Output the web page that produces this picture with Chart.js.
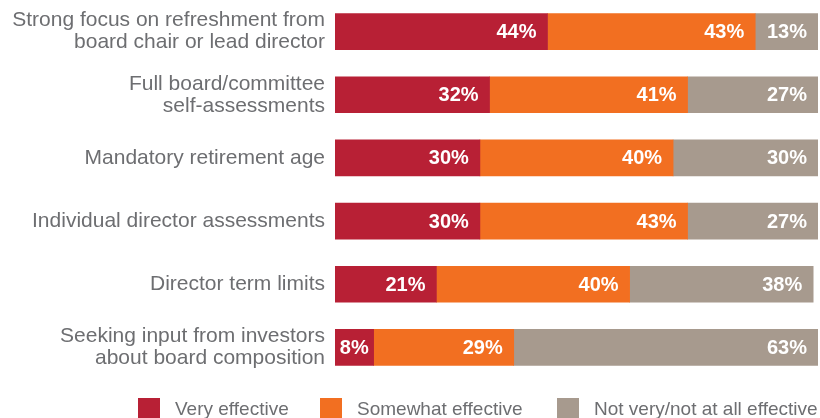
<!DOCTYPE html>
<html>
<head>
<meta charset="utf-8">
<script src="https://cdn.jsdelivr.net/npm/chart.js@4.4.1/dist/chart.umd.min.js"></script>
<style>
  html, body { margin: 0; padding: 0; background: #fff; }
  #wrap { width: 820px; height: 418px; position: relative; overflow: hidden; }
  #legend { position: absolute; top: 398px; left: 0; width: 820px; height: 22px;
    font-family: "Liberation Sans", Arial, Helvetica, sans-serif; font-size: 19px; color: #6D6E71; }
  .item { position: absolute; top: 0; height: 22px; line-height: 22px; white-space: nowrap; }
  .box { position: absolute; left: 0; top: 0; width: 22px; height: 22px; }
  .lbl { position: absolute; left: 37px; top: 0; }
</style>
</head>
<body>
<div id="wrap"><canvas id="chart"></canvas><div id="legend"></div></div>
<script>
  var CATEGORIES = [
    ['Strong focus on refreshment from', 'board chair or lead director'],
    ['Full board/committee', 'self-assessments'],
    'Mandatory retirement age',
    'Individual director assessments',
    'Director term limits',
    ['Seeking input from investors', 'about board composition']
  ];
  var SERIES = ['Very effective', 'Somewhat effective', 'Not very/not at all effective'];
  var VERY = [44, 32, 30, 30, 21, 8];
  var SOMEWHAT = [43, 41, 40, 43, 40, 29];
  var NOT_VERY = [13, 27, 30, 27, 38, 63];

  var COLORS = ['#B82035', '#F26F21', '#A79A8E'];
  var TEXT = '#6D6E71';
  var FONT = '"Liberation Sans", Arial, Helvetica, sans-serif';
  var LEGEND_X = [138, 320, 557];

  // white % labels, right-aligned inside each segment (centred when the segment is too narrow)
  var valueLabels = {
    id: 'valueLabels',
    afterDatasetsDraw: function(chart) {
      var ctx = chart.ctx;
      ctx.save();
      ctx.font = 'bold 20px ' + FONT;
      ctx.fillStyle = '#fff';
      ctx.textBaseline = 'middle';
      chart.data.datasets.forEach(function(ds, i) {
        chart.getDatasetMeta(i).data.forEach(function(bar, j) {
          var txt = ds.data[j] + '%';
          var w = ctx.measureText(txt).width;
          var segW = bar.x - bar.base;
          if (segW < w + 20) {
            ctx.textAlign = 'center';
            ctx.fillText(txt, (bar.x + bar.base) / 2, bar.y + 1);
          } else {
            ctx.textAlign = 'right';
            ctx.fillText(txt, bar.x - 11, bar.y + 1);
          }
        });
      });
      ctx.restore();
    }
  };

  var chart = new Chart(document.getElementById('chart'), {
    type: 'bar',
    data: {
      labels: CATEGORIES,
      datasets: [
        { label: SERIES[0], data: VERY, backgroundColor: COLORS[0] },
        { label: SERIES[1], data: SOMEWHAT, backgroundColor: COLORS[1] },
        { label: SERIES[2], data: NOT_VERY, backgroundColor: COLORS[2] }
      ]
    },
    options: {
      indexAxis: 'y',
      responsive: true,
      maintainAspectRatio: false,
      animation: false,
      barThickness: 36,
      layout: { padding: { top: 0, right: 2, bottom: 39, left: 0 } },
      plugins: {
        legend: { display: false },
        tooltip: { enabled: false }
      },
      scales: {
        x: { stacked: true, min: 0, max: 100, display: false },
        y: {
          stacked: true,
          grid: { display: false, drawTicks: false },
          border: { display: false },
          ticks: { color: TEXT, font: { family: FONT, size: 21, lineHeight: 1.05 }, padding: 10 },
          afterFit: function(s) { s.width = 335; s.paddingTop = 0; s.paddingBottom = 0; }
        }
      }
    },
    plugins: [valueLabels]
  });

  document.getElementById('legend').innerHTML = chart.data.datasets.map(function(ds, i) {
    return '<div class="item" style="left:' + LEGEND_X[i] + 'px">' +
      '<div class="box" style="background:' + ds.backgroundColor + '"></div>' +
      '<div class="lbl">' + ds.label + '</div></div>';
  }).join('');
</script>
</body>
</html>
